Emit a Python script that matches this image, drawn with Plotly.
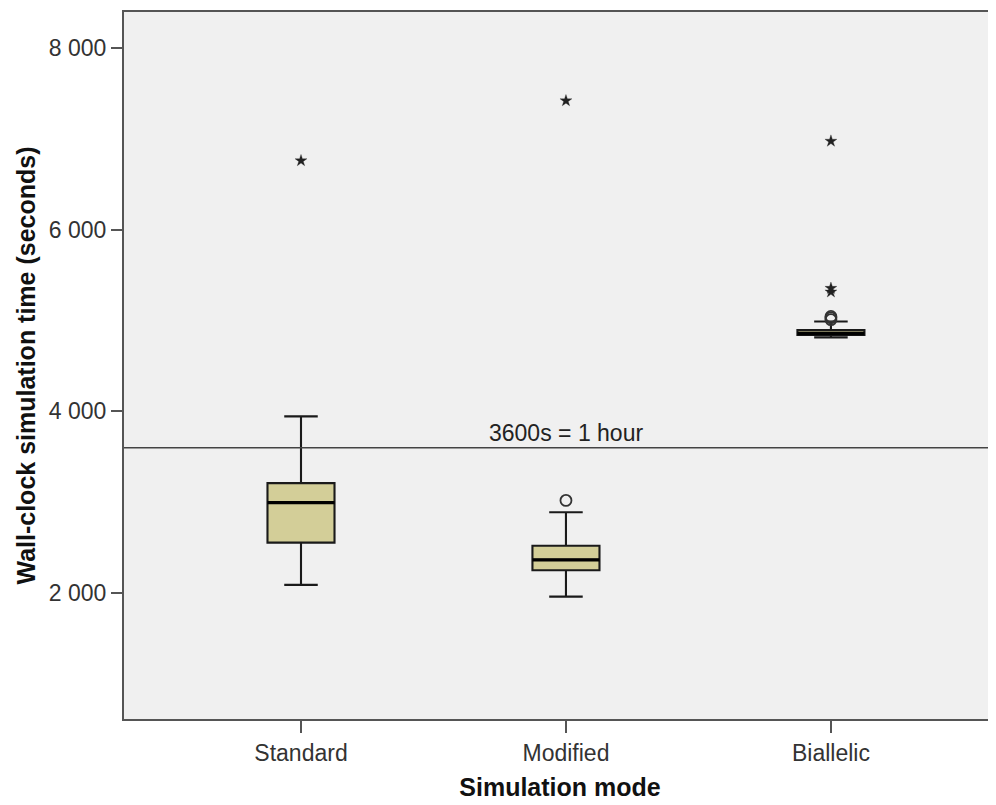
import plotly.graph_objects as go

categories = ["Standard", "Modified", "Biallelic"]
q1 = [2555, 2250, 4840]
median = [2995, 2365, 4858]
q3 = [3210, 2520, 4895]
lower_whisker = [2090, 1960, 4815]
upper_whisker = [3945, 2890, 4990]
outliers_mild = [[], [3020], [5010, 5030, 5045]]
outliers_extreme = [[6760], [7420], [5315, 5355, 6975]]
y_tick_vals = [2000, 4000, 6000, 8000]
y_tick_text = ["2 000", "4 000", "6 000", "8 000"]
reference_value = 3600
reference_label = "3600s = 1 hour"

pos = list(range(len(categories)))
box_w = 0.253
FONT = "Liberation Sans, Arial, sans-serif"

fig = go.Figure()

fig.add_trace(go.Box(
    x=pos, q1=q1, median=median, q3=q3,
    lowerfence=lower_whisker, upperfence=upper_whisker,
    width=box_w, whiskerwidth=0.5,
    fillcolor="rgb(211,206,152)",
    line=dict(color="#1a1a1a", width=2.1),
    boxpoints=False, showlegend=False, hoverinfo="skip",
))

# thick median lines
for i, m in zip(pos, median):
    fig.add_trace(go.Scatter(
        x=[i - box_w / 2, i + box_w / 2], y=[m, m], mode="lines",
        line=dict(color="black", width=3.4), showlegend=False, hoverinfo="skip",
    ))

mx, my, ex, ey = [], [], [], []
for i in pos:
    mx += [i] * len(outliers_mild[i]); my += outliers_mild[i]
    ex += [i] * len(outliers_extreme[i]); ey += outliers_extreme[i]

fig.add_trace(go.Scatter(
    x=mx, y=my, mode="markers",
    marker=dict(symbol="circle-open", size=11, color="#333333", line=dict(width=1.8, color="#333333")),
    showlegend=False, hoverinfo="skip",
))
fig.add_trace(go.Scatter(
    x=ex, y=ey, mode="markers",
    marker=dict(symbol="star", size=9, color="#222222", line=dict(width=0.3, color="#222222")),
    showlegend=False, hoverinfo="skip",
))

fig.add_shape(type="line", xref="paper", x0=0, x1=1, yref="y",
              y0=reference_value, y1=reference_value,
              line=dict(color="#444444", width=1.6))
fig.add_annotation(x=1, y=reference_value, xref="x", yref="y", text=reference_label,
                   showarrow=False, yanchor="bottom", yshift=0,
                   font=dict(family=FONT, size=23, color="#222222"))

# page body has an 8px margin; the figure is sized so the plot lands where the reference has it
fig.update_layout(
    width=988, height=797,
    margin=dict(l=116, r=0, t=4, b=86),
    paper_bgcolor="white", plot_bgcolor="#f0f0f0",
    font=dict(family=FONT, color="#222222"),
)
fig.update_xaxes(
    range=[-0.668, 2.623], tickvals=pos, ticktext=categories,
    showgrid=False, zeroline=False,
    showline=True, linecolor="#555555", linewidth=2, mirror=True,
    ticks="outside", ticklen=12, tickwidth=2, tickcolor="#555555",
    tickfont=dict(family=FONT, size=23, color="#333333"),
    title=dict(text="<b>Simulation mode</b>", font=dict(family=FONT, size=25, color="#111111"), standoff=14),
)
fig.update_yaxes(
    range=[613, 8397], tickvals=y_tick_vals, ticktext=y_tick_text,
    showgrid=False, zeroline=False,
    showline=True, linecolor="#555555", linewidth=2,
    ticks="outside", ticklen=11, tickwidth=2, tickcolor="#555555",
    tickfont=dict(family=FONT, size=23, color="#333333"),
    title=dict(text="<b>Wall-clock simulation time (seconds)</b>", font=dict(family=FONT, size=25, color="#111111"), standoff=6),
)

fig.write_html("out.html")
